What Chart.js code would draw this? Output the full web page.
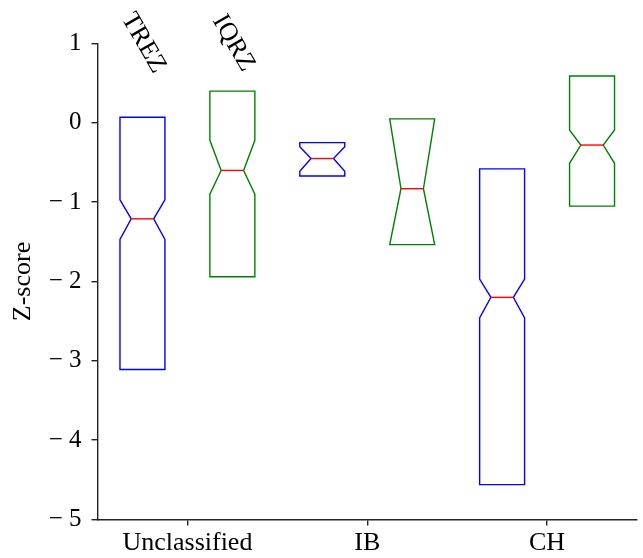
<!DOCTYPE html>
<html>
<head>
<meta charset="utf-8">
<script src="https://cdn.jsdelivr.net/npm/chart.js@4/dist/chart.umd.min.js"></script>
<style>
  html, body { margin: 0; padding: 0; background: #fff; }
  #wrap { width: 643px; height: 558px; }
</style>
</head>
<body>
<div id="wrap"><canvas id="c" width="643" height="558"></canvas></div>
<script>
// ---- Data ----
const categories = ['Unclassified', 'IB', 'CH'];
const seriesNames = ['TREZ', 'IQRZ'];
const seriesColors = ['#0000ff', '#008000'];
const medianColor = '#ff0000';

const trezQ1       = [-3.11, -0.67, -4.56];
const trezQ3       = [ 0.07, -0.25, -0.58];
const trezMedian   = [-1.21, -0.45, -2.20];
const trezNotchLo  = [-1.47, -0.61, -2.46];
const trezNotchHi  = [-0.97, -0.30, -1.97];

const iqrzQ1       = [-1.94, -1.535, -1.05];
const iqrzQ3       = [ 0.40,  0.05,  0.59];
const iqrzMedian   = [-0.60, -0.83, -0.28];
const iqrzNotchLo  = [-0.90, -1.535, -0.51];
const iqrzNotchHi  = [-0.22,  0.05, -0.09];

const yTickValues = [-5, -4, -3, -2, -1, 0, 1];
const yTickLabels = ['− 5', '− 4', '− 3', '− 2', '− 1', '0', '1'];

const boxStats = [
  { q1: trezQ1, q3: trezQ3, med: trezMedian, nlo: trezNotchLo, nhi: trezNotchHi },
  { q1: iqrzQ1, q3: iqrzQ3, med: iqrzMedian, nlo: iqrzNotchLo, nhi: iqrzNotchHi }
];

const FONT = '"Liberation Serif", "Times New Roman", serif';

const notchPlugin = {
  id: 'notchBoxes',
  afterDatasetsDraw(chart) {
    const ctx = chart.ctx;
    const ys = chart.scales.y;
    boxStats.forEach((st, di) => {
      const meta = chart.getDatasetMeta(di);
      meta.data.forEach((el, j) => {
        const x = el.x, w = el.width;
        const l = x - w / 2, r = x + w / 2;
        const cl = x - w / 4, cr = x + w / 4;
        const yq1 = ys.getPixelForValue(st.q1[j]);
        const yq3 = ys.getPixelForValue(st.q3[j]);
        const ym = ys.getPixelForValue(st.med[j]);
        const ynl = ys.getPixelForValue(st.nlo[j]);
        const ynh = ys.getPixelForValue(st.nhi[j]);
        ctx.save();
        ctx.lineWidth = 1.4;
        ctx.lineJoin = 'miter';
        ctx.strokeStyle = seriesColors[di];
        ctx.beginPath();
        ctx.moveTo(l, yq3);
        ctx.lineTo(r, yq3);
        ctx.lineTo(r, ynh);
        ctx.lineTo(cr, ym);
        ctx.lineTo(r, ynl);
        ctx.lineTo(r, yq1);
        ctx.lineTo(l, yq1);
        ctx.lineTo(l, ynl);
        ctx.lineTo(cl, ym);
        ctx.lineTo(l, ynh);
        ctx.closePath();
        ctx.stroke();
        ctx.strokeStyle = medianColor;
        ctx.beginPath();
        ctx.moveTo(cl, ym);
        ctx.lineTo(cr, ym);
        ctx.stroke();
        ctx.restore();
      });
      // series label above the first group
      const first = meta.data[0];
      ctx.save();
      ctx.fillStyle = '#000';
      ctx.font = '26px ' + FONT;
      ctx.textAlign = 'center';
      ctx.textBaseline = 'middle';
      ctx.translate(first.x + 1, ys.getPixelForValue(1) - 0.5);
      ctx.rotate(Math.PI / 3);
      ctx.fillText(seriesNames[di], 0, 0);
      ctx.restore();
    });
  }
};

new Chart(document.getElementById('c'), {
  type: 'bar',
  data: {
    labels: categories,
    datasets: seriesNames.map((name, i) => ({
      label: name,
      data: categories.map((_, j) => [boxStats[i].q1[j], boxStats[i].q3[j]]),
      backgroundColor: 'rgba(0,0,0,0)',
      borderWidth: 0,
      categoryPercentage: 1.0,
      barPercentage: 0.5
    }))
  },
  plugins: [notchPlugin],
  options: {
    responsive: false,
    animation: false,
    events: [],
    layout: { padding: { top: 43.5, right: 6, left: 0, bottom: 0 } },
    plugins: { legend: { display: false }, tooltip: { enabled: false } },
    scales: {
      x: {
        offset: true,
        grid: { display: true, drawOnChartArea: false, drawTicks: true, tickLength: 6, color: '#222', lineWidth: 1.4, offset: false },
        border: { display: true, color: '#222', width: 1.4 },
        ticks: { color: '#000', font: { family: FONT, size: 26 }, padding: 2, maxRotation: 0 },
        afterFit(scale) { scale.height = 38.5; }
      },
      y: {
        min: -5, max: 1,
        afterBuildTicks(scale) { scale.ticks = yTickValues.map(v => ({ value: v })); },
        grid: { display: true, drawOnChartArea: false, drawTicks: true, tickLength: 6, color: '#222', lineWidth: 1.4 },
        border: { display: true, color: '#222', width: 1.4 },
        ticks: {
          color: '#000', font: { family: FONT, size: 25 }, padding: 10,
          callback: (v) => yTickLabels[yTickValues.indexOf(v)]
        },
        title: { display: true, text: 'Z-score', color: '#000', font: { family: FONT, size: 26 }, padding: { top: 8, bottom: 0 } },
        afterFit(scale) { scale.width = 97.5; }
      }
    }
  }
});
</script>
</body>
</html>
